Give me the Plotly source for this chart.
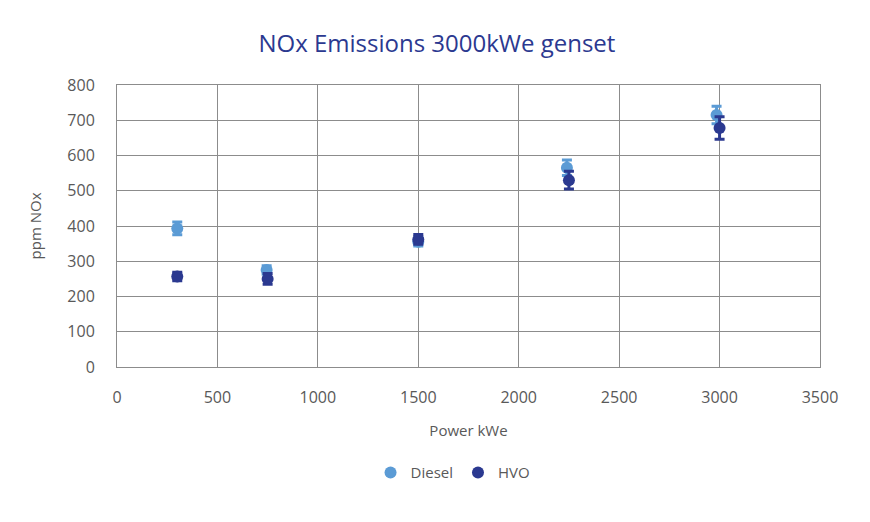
import plotly.graph_objects as go

# data
diesel_x = [300, 745, 1500, 2240, 2985]
diesel_y = [393, 275, 355, 565, 715]
diesel_err = [18, 12, 12, 22, 25]

hvo_x = [300, 750, 1500, 2250, 3000]
hvo_y = [257, 250, 362, 530, 678]
hvo_err = [12, 15, 14, 25, 32]

fig = go.Figure()
fig.add_trace(go.Scatter(
    x=diesel_x, y=diesel_y, mode="markers", name="Diesel",
    marker=dict(color="#5B9BD5", size=12),
    error_y=dict(type="data", array=diesel_err, color="#5B9BD5", thickness=3, width=5),
))
fig.add_trace(go.Scatter(
    x=hvo_x, y=hvo_y, mode="markers", name="HVO",
    marker=dict(color="#2B3990", size=12),
    error_y=dict(type="data", array=hvo_err, color="#2B3990", thickness=3, width=5),
))

fig.update_layout(
    width=870, height=522,
    paper_bgcolor="white", plot_bgcolor="white",
    margin=dict(l=109, r=58, t=77, b=163),
    font=dict(family="Open Sans, sans-serif", color="#595959", size=16),
    title=dict(text="NOx Emissions 3000kWe genset", x=0.493, xanchor="center",
               y=0.931, yanchor="middle",
               font=dict(size=24, color="#2B3990", family="Open Sans, sans-serif")),
    legend=dict(orientation="h", x=0.478, xanchor="center", y=-0.375, yanchor="middle",
                font=dict(size=15, color="#595959"), itemsizing="constant"),
    showlegend=True,
)
fig.update_xaxes(range=[0, 3500], dtick=500, showgrid=True, gridcolor="#8C8C8C", gridwidth=1,
                 showline=True, linecolor="#8C8C8C", mirror=True, zeroline=False,
                 ticks="", ticklabelstandoff=16,
                 title=dict(text="Power kWe", font=dict(size=15), standoff=18))
fig.update_yaxes(range=[0, 800], dtick=100, showgrid=True, gridcolor="#8C8C8C", gridwidth=1,
                 showline=True, linecolor="#8C8C8C", mirror=True, zeroline=False,
                 ticks="", ticklabelstandoff=18,
                 title=dict(text="ppm NOx", font=dict(size=15), standoff=22))

fig.write_html("out.html")
